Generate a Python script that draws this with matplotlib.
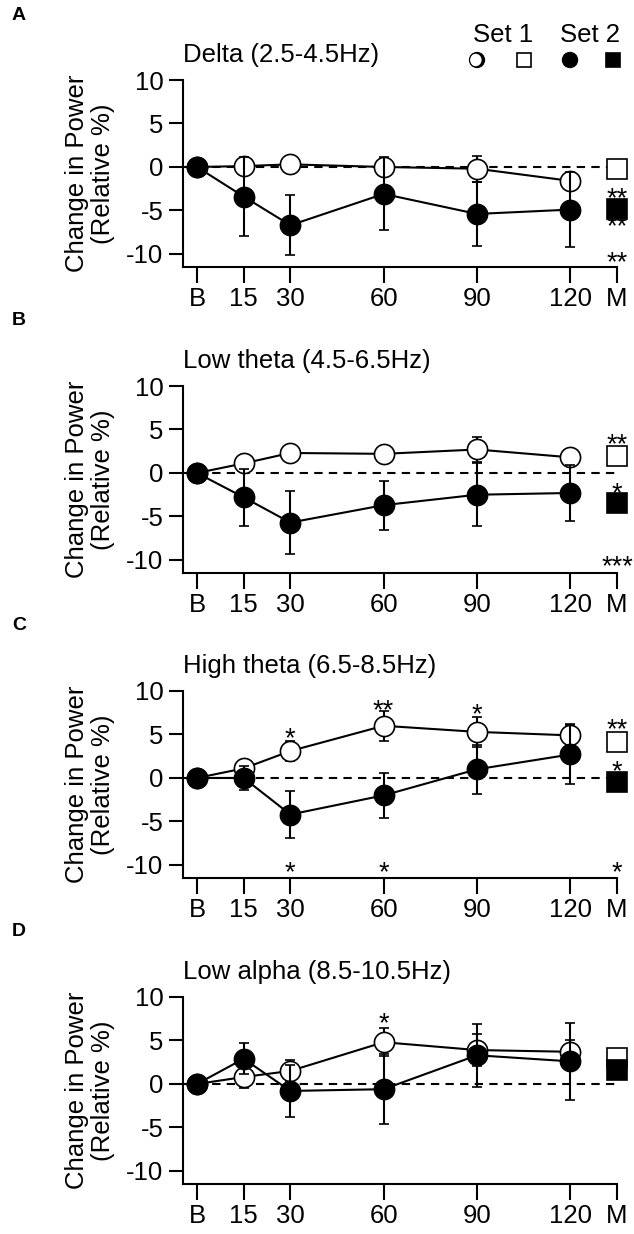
import numpy as np
import matplotlib.pyplot as plt
from matplotlib.patches import Circle, Rectangle

plt.rcParams['font.family'] = ['Liberation Sans', 'DejaVu Sans']
plt.rcParams['axes.unicode_minus'] = False

# -----------------------------
# Data
# -----------------------------
times = [0, 15, 30, 60, 90, 120]
m_pos = 135
tick_pos = [0, 15, 30, 60, 90, 120, 135]
tick_labels = ["B", "15", "30", "60", "90", "120", "M"]

letters = ["A", "B", "C", "D"]
titles = ["Delta (2.5-4.5Hz)", "Low theta (4.5-6.5Hz)",
          "High theta (6.5-8.5Hz)", "Low alpha (8.5-10.5Hz)"]

set1_delta = [0, 0.1, 0.3, 0.0, -0.2, -1.6]
set1_delta_err = [0, 0.6, 0.5, 0.8, 1.5, 0.8]
set2_delta = [0, -3.4, -6.7, -3.1, -5.4, -4.9]
set2_delta_err = [0, 4.5, 3.45, 4.2, 3.7, 4.3]

set1_ltheta = [0, 1.1, 2.3, 2.2, 2.7, 1.8]
set1_ltheta_err = [0, 0.5, 0.6, 0.6, 1.4, 0.6]
set2_ltheta = [0, -2.8, -5.7, -3.7, -2.5, -2.3]
set2_ltheta_err = [0, 3.3, 3.6, 2.8, 3.6, 3.2]

set1_htheta = [0, 1.1, 3.1, 6.0, 5.3, 4.9]
set1_htheta_err = [0, 0.5, 1.2, 1.7, 1.7, 1.3]
set2_htheta = [0, 0.0, -4.2, -2.0, 1.0, 2.7]
set2_htheta_err = [0, 1.4, 2.7, 2.6, 2.8, 3.4]

set1_lalpha = [0, 0.8, 1.5, 4.8, 3.9, 3.7]
set1_lalpha_err = [0, 1.3, 1.3, 1.6, 1.8, 1.4]
set2_lalpha = [0, 2.9, -0.8, -0.6, 3.3, 2.6]
set2_lalpha_err = [0, 1.8, 3.0, 4.0, 3.6, 4.4]

# M (mean) values for set 1 / set 2
m_set1 = [-0.2, 2.0, 4.1, 2.95]
m_set2 = [-4.8, -3.45, -0.5, 1.55]

# significance stars (x, y, text)
stars_delta = [(135, -2.9, "**"), (135, -6.1, "**"), (135, -10.3, "**")]
stars_ltheta = [(135, 4.0, "**"), (135, -1.7, "*"), (135, -10.0, "***")]
stars_htheta = [(30, 5.3, "*"), (60, 8.5, "**"), (90, 8.0, "*"),
                (30, -10.2, "*"), (60, -10.2, "*"),
                (135, 6.3, "**"), (135, 1.5, "*"), (135, -10.2, "*")]
stars_lalpha = [(60, 7.7, "*")]

panels = [
    (set1_delta, set1_delta_err, set2_delta, set2_delta_err, stars_delta),
    (set1_ltheta, set1_ltheta_err, set2_ltheta, set2_ltheta_err, stars_ltheta),
    (set1_htheta, set1_htheta_err, set2_htheta, set2_htheta_err, stars_htheta),
    (set1_lalpha, set1_lalpha_err, set2_lalpha, set2_lalpha_err, stars_lalpha),
]

W, H = 634, 1234
fig = plt.figure(figsize=(W / 100, H / 100), dpi=100)

FS = 18.5
ax_left = 183 / W
ax_w = (617 - 183) / W
ax_h = 187 / H
tops = [80, 386, 691, 997]

for i, (s1, e1, s2, e2, stars) in enumerate(panels):
    top = tops[i]
    ax = fig.add_axes([ax_left, 1 - (top + 187) / H, ax_w, ax_h])

    ax.axhline(0, color="black", lw=1.5, ls=(0, (4, 3)), zorder=1)

    # set 1 (open circles)
    ax.errorbar(times, s1, yerr=e1, color="black", lw=1.5, elinewidth=1.5,
                capsize=3.5, capthick=1.5, marker="o", ms=14.5, mfc="white",
                mec="black", mew=1.2, zorder=3, clip_on=False)
    # set 2 (filled circles)
    ax.errorbar(times, s2, yerr=e2, color="black", lw=1.5, elinewidth=1.5,
                capsize=3.5, capthick=1.5, marker="o", ms=14.5, mfc="black",
                mec="black", mew=1.2, zorder=4, clip_on=False)

    # M squares
    ax.plot([m_pos], [m_set1[i]], marker="s", ms=14.5, mfc="white",
            mec="black", mew=1.2, ls="none", zorder=5, clip_on=False)
    ax.plot([m_pos], [m_set2[i]], marker="s", ms=14.5, mfc="black",
            mec="black", mew=1.2, ls="none", zorder=6, clip_on=False)

    for (sx, sy, st) in stars:
        ax.annotate(st, (sx, sy), xytext=(0, -5), textcoords="offset points",
                    ha="center", va="center", fontsize=FS + 1, zorder=7,
                    annotation_clip=False)

    ax.set_xlim(-4.5, 135)
    ax.set_ylim(-11.5, 10)
    ax.set_yticks([-10, -5, 0, 5, 10])
    ax.set_xticks(tick_pos)
    ax.set_xticklabels(tick_labels)
    ax.spines["top"].set_visible(False)
    ax.spines["right"].set_visible(False)
    ax.spines["left"].set_linewidth(1.5)
    ax.spines["bottom"].set_linewidth(1.5)
    ax.tick_params(axis="y", length=10, width=1.5, pad=4, labelsize=FS)
    ax.tick_params(axis="x", length=11.5, width=1.5, pad=3, labelsize=FS)
    ax.set_ylabel("Change in Power\n(Relative %)", fontsize=FS, labelpad=8,
                  linespacing=1.1)

    ax.text(0, 1.135, titles[i], transform=ax.transAxes, ha="left",
            va="center", fontsize=FS)
    fig.text(12 / W, 1 - (top - 65) / H, letters[i], fontsize=14,
             fontweight="bold", ha="left", va="center")

# legend in pixel coordinates
lg = fig.add_axes([0, 0, 1, 1])
lg.set_xlim(0, W)
lg.set_ylim(H, 0)
lg.axis("off")
lg.text(503, 35, "Set 1", ha="center", va="center", fontsize=FS)
lg.text(590, 35, "Set 2", ha="center", va="center", fontsize=FS)
mk_y = 60
lg.add_patch(Circle((477, mk_y), 7.5, fc="black", ec="none"))
lg.add_patch(Circle((475.3, mk_y), 6.3, fc="white", ec="none"))
lg.add_patch(Circle((477, mk_y), 7.5, fc="none", ec="black", lw=0.9))
lg.add_patch(Rectangle((517, mk_y - 7), 14, 14, fc="white", ec="black", lw=1.2))
lg.add_patch(Circle((570, mk_y), 7.5, fc="black", ec="black"))
lg.add_patch(Rectangle((606, mk_y - 7), 14, 14, fc="black", ec="black", lw=1.2))

fig.savefig("out.png", dpi=100)
